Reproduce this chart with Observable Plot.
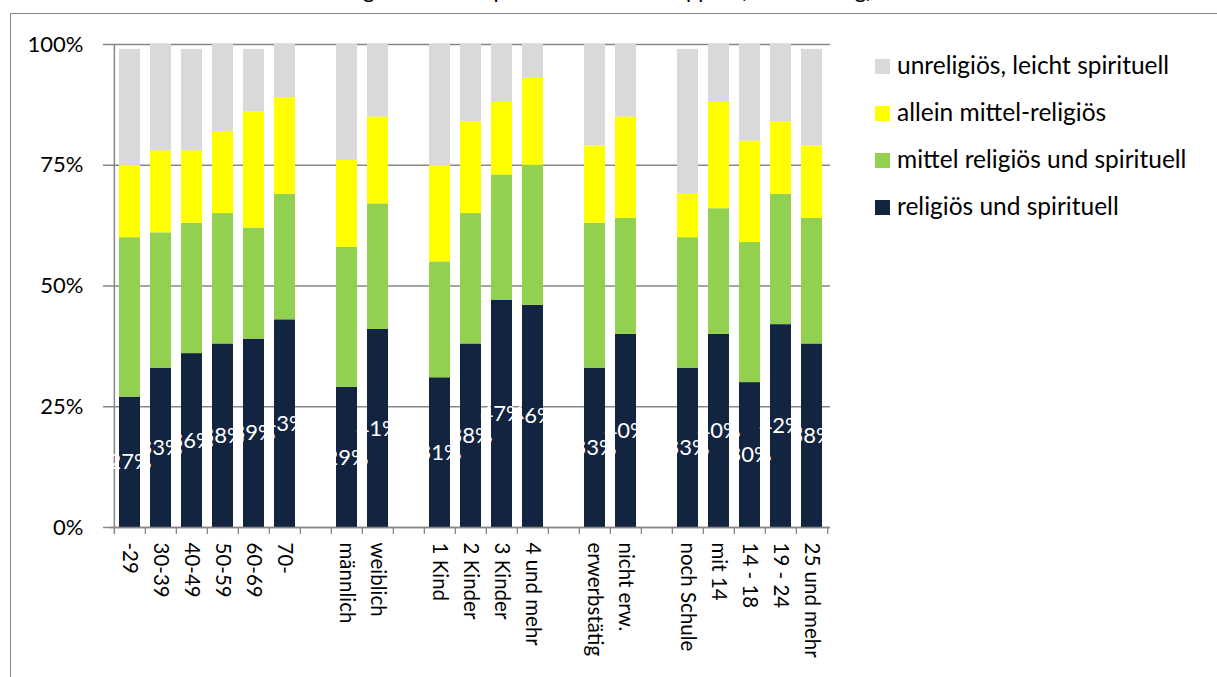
<!DOCTYPE html>
<html>
<head>
<meta charset="utf-8">
<script src="https://cdn.jsdelivr.net/npm/d3@7"></script>
<script src="https://cdn.jsdelivr.net/npm/@observablehq/plot@0.6"></script>
<style>
  html, body { margin: 0; padding: 0; background: #fff; overflow: hidden; width: 1217px; height: 677px; }
  body { font-family: "Lato", "Open Sans", sans-serif; }
  #frame { position: absolute; left: 10px; top: 13px; width: 1400px; height: 900px;
           border-left: 1.5px solid #878787; border-top: 1.5px solid #878787; }
  #title { position: absolute; top: -22px; left: 0; width: 1200px; text-align: center;
           font-size: 22px; line-height: 24px; color: #000; white-space: nowrap; }
  #chart { position: absolute; left: 0; top: 0; }
  #legend { position: absolute; left: 875px; top: 0; }
  .item { position: absolute; left: 0; white-space: nowrap; font-size: 24.5px; color: #000; }
  .sw { position: absolute; left: 0; width: 15px; height: 15px; }
  .lab { position: absolute; left: 22px; top: -16px; line-height: 30px; }
</style>
</head>
<body>
<div id="frame"></div>
<div id="title">Religiosität und Spiritualität nach Gruppen (Zustimmung)</div>
<div id="chart"></div>
<div id="legend"></div>
<script>
// slot layout (empty string = gap between groups)
const slots = ["-29","30-39","40-49","50-59","60-69","70-","",
  "männlich","weiblich","",
  "1 Kind","2 Kinder","3 Kinder","4 und mehr","",
  "erwerbstätig","nicht erw.","",
  "noch Schule","mit 14","14 - 18","19 - 24","25 und mehr"];

const categories = ["-29","30-39","40-49","50-59","60-69","70-",
  "männlich","weiblich",
  "1 Kind","2 Kinder","3 Kinder","4 und mehr",
  "erwerbstätig","nicht erw.",
  "noch Schule","mit 14","14 - 18","19 - 24","25 und mehr"];

const religiosSpirituell       = [27,33,36,38,39,43, 29,41, 31,38,47,46, 33,40, 33,40,30,42,38];
const mittelReligiosSpirituell = [33,28,27,27,23,26, 29,26, 24,27,26,29, 30,24, 27,26,29,27,26];
const alleinMittelReligios     = [15,17,15,17,24,20, 18,18, 20,19,15,18, 16,21,  9,22,21,15,15];
const unreligiosLeicht         = [24,22,21,18,13,11, 24,15, 25,16,12, 7, 21,15, 30,12,20,16,20];

const seriesNames = ["religiös und spirituell","mittel religiös und spirituell","allein mittel-religiös","unreligiös, leicht spirituell"];
const seriesColors = ["#12243f","#92d050","#ffff00","#d9d9d9"];
const seriesValues = [religiosSpirituell, mittelReligiosSpirituell, alleinMittelReligios, unreligiosLeicht];
const yTicks = [0,25,50,75,100];

const keys = slots.map((s,i) => s === "" ? "gap" + i : s);

const rows = [];
seriesNames.forEach((name, si) => {
  categories.forEach((c, ci) => rows.push({cat: c, series: name, value: seriesValues[si][ci]}));
});
const darkRows = categories.map((c, ci) => ({cat: c, value: religiosSpirituell[ci]}));

const W = 1217, H = 677, mL = 110, mR = 387, mT = 44, mB = 150;
const step = (W - mL - mR) / keys.length;
const plotH = H - mT - mB;
const grey = "#878787";

const chart = Plot.plot({
  width: W, height: H,
  marginLeft: mL, marginRight: mR, marginTop: mT, marginBottom: mB,
  x: {domain: keys, paddingInner: 0.33, paddingOuter: 0.165, align: 0.5},
  y: {domain: [0,100]},
  color: {domain: seriesNames, range: seriesColors},
  style: {fontFamily: "Lato, 'Open Sans', sans-serif", fontSize: "20px", background: "none", overflow: "visible", color: "#000"},
  marks: [
    Plot.ruleY(yTicks, {stroke: grey, strokeWidth: 1.3, insetLeft: -7}),
    Plot.barY(rows, {x: "cat", y: "value", fill: "series", order: seriesNames}),
    Plot.ruleX([keys[0]], {dx: -step/2, stroke: grey, strokeWidth: 1.5, insetBottom: -7}),
    Plot.ruleX(keys.slice(1), {dx: -step/2, stroke: grey, strokeWidth: 1.3, insetTop: plotH, insetBottom: -7}),
    Plot.ruleX([keys[keys.length-1]], {dx: step/2, stroke: grey, strokeWidth: 1.3, insetTop: plotH, insetBottom: -7}),
    Plot.ruleY([0], {stroke: grey, strokeWidth: 1.5}),
    Plot.text(darkRows, {x: "cat", y: d => d.value / 2, text: d => d.value + "%", fill: "white", fontSize: 22}),
    Plot.axisY(yTicks, {tickSize: 0, tickPadding: 27, tickFormat: d => d + "%", fontSize: 22, fill: "#000", label: null}),
    Plot.axisX({tickRotate: 90, tickSize: 0, tickPadding: 15, tickFormat: d => d.startsWith("gap") ? "" : d, fontSize: 20.5, fill: "#000", label: null})
  ]
});
document.getElementById("chart").appendChild(chart);

// legend (top to bottom: reverse stacking order)
const legend = document.getElementById("legend");
const legendY = [66, 113, 160, 207];
seriesNames.slice().reverse().forEach((name, i) => {
  const color = seriesColors[seriesNames.indexOf(name)];
  const item = document.createElement("div");
  item.className = "item";
  item.style.top = legendY[i] + "px";
  item.innerHTML = `<div class="sw" style="top:-7px;background:${color}"></div><div class="lab">${name}</div>`;
  legend.appendChild(item);
});
</script>
</body>
</html>
